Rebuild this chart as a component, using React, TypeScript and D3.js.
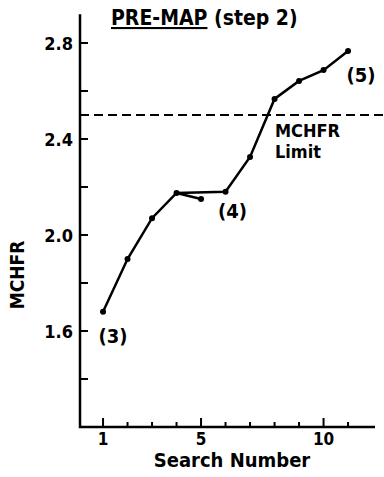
import React, { useRef, useEffect } from "react";
import * as d3 from "d3";

// main search path (search number -> MCHFR)
const searchNums = [1, 2, 3, 4, 6, 7, 8, 9, 10, 11];
const mchfrVals = [1.68, 1.9, 2.07, 2.175, 2.18, 2.325, 2.567, 2.642, 2.687, 2.767];
// rejected step branching off search 4
const branchNums = [4, 5];
const branchVals = [2.175, 2.15];

const yTicks = [1.4, 1.6, 1.8, 2.0, 2.2, 2.4, 2.6, 2.8];
const yLabels = [1.6, 2.0, 2.4, 2.8];
const xTicks = [1, 2, 3, 4, 5, 6, 7, 8, 9, 10, 11];
const xLabels = [1, 5, 10];
const limit = 2.5;

const notes = [
  { text: "(3)", x: 1.41, y: 1.55 },
  { text: "(4)", x: 6.28, y: 2.071 },
  { text: "(5)", x: 11.53, y: 2.638 },
];

const FONT = "'DejaVu Sans Condensed', 'DejaVu Sans', sans-serif";

const App = () => {
  const svgRef = useRef<SVGSVGElement>(null);

  useEffect(() => {
    const width = 384, height = 477;
    const svg = d3.select(svgRef.current)
      .attr("width", width)
      .attr("height", height)
      .style("background", "#fff");
    svg.selectAll("*").remove();

    const x = d3.scaleLinear().domain([0.06, 12.1]).range([80, 375]);
    const y = d3.scaleLinear().domain([1.2, 2.8]).range([427, 43]);

    const label = (sel, size) => sel
      .style("font-family", FONT)
      .style("font-weight", "bold")
      .style("font-size", size + "px");

    // axes
    svg.append("path")
      .attr("d", `M${x(0.06)},${y(2.92)}V${y(1.2)}H${x(12.1)}`)
      .attr("fill", "none")
      .attr("stroke", "#000")
      .attr("stroke-width", 2.5);

    svg.selectAll(".ytick")
      .data(yTicks)
      .enter()
      .append("line")
      .attr("x1", x(0.06))
      .attr("x2", x(0.06) + 8)
      .attr("y1", d => y(d))
      .attr("y2", d => y(d))
      .attr("stroke", "#000")
      .attr("stroke-width", 2);

    svg.selectAll(".ylab")
      .data(yLabels)
      .enter()
      .append("text")
      .attr("x", 73)
      .attr("y", d => y(d) + 6.5)
      .attr("text-anchor", "end")
      .call(label, 18)
      .text(d => d.toFixed(1));

    svg.selectAll(".xtick")
      .data(xTicks)
      .enter()
      .append("line")
      .attr("x1", d => x(d))
      .attr("x2", d => x(d))
      .attr("y1", y(1.2))
      .attr("y2", d => y(1.2) - (xLabels.includes(d) ? 9 : 5))
      .attr("stroke", "#000")
      .attr("stroke-width", 2);

    svg.selectAll(".xlab")
      .data(xLabels)
      .enter()
      .append("text")
      .attr("x", d => x(d))
      .attr("y", 445)
      .attr("text-anchor", "middle")
      .call(label, 17)
      .text(d => d);

    svg.append("text")
      .attr("x", 232)
      .attr("y", 467)
      .attr("text-anchor", "middle")
      .call(label, 20)
      .text("Search Number");

    svg.append("text")
      .attr("transform", "translate(24,275) rotate(-90)")
      .attr("text-anchor", "middle")
      .call(label, 19)
      .text("MCHFR");

    // title
    const title = svg.append("text")
      .attr("x", 111)
      .attr("y", 25)
      .call(label, 21);
    title.append("tspan").style("text-decoration", "underline").text("PRE-MAP");
    title.append("tspan").text(" (step 2)");

    // MCHFR limit
    svg.append("line")
      .attr("x1", x(0.06))
      .attr("x2", width)
      .attr("y1", y(limit))
      .attr("y2", y(limit))
      .attr("stroke", "#000")
      .attr("stroke-width", 2)
      .attr("stroke-dasharray", "9,5");

    svg.append("text")
      .attr("x", 275)
      .attr("y", 137)
      .call(label, 18)
      .text("MCHFR");
    svg.append("text")
      .attr("x", 275)
      .attr("y", 158)
      .call(label, 18)
      .text("Limit");

    const line = d3.line<number>()
      .x((d, i) => x(searchNums[i]))
      .y(d => y(d));
    svg.append("path")
      .datum(mchfrVals)
      .attr("d", line)
      .attr("fill", "none")
      .attr("stroke", "#000")
      .attr("stroke-width", 2.5);

    const branch = d3.line<number>()
      .x((d, i) => x(branchNums[i]))
      .y(d => y(d));
    svg.append("path")
      .datum(branchVals)
      .attr("d", branch)
      .attr("fill", "none")
      .attr("stroke", "#000")
      .attr("stroke-width", 2.5);

    const pts = searchNums.map((n, i) => [n, mchfrVals[i]])
      .concat([[branchNums[1], branchVals[1]]]);
    svg.selectAll(".pt")
      .data(pts)
      .enter()
      .append("circle")
      .attr("cx", d => x(d[0]))
      .attr("cy", d => y(d[1]))
      .attr("r", 3)
      .attr("fill", "#000");

    svg.selectAll(".note")
      .data(notes)
      .enter()
      .append("text")
      .attr("x", d => x(d.x))
      .attr("y", d => y(d.y))
      .attr("text-anchor", "middle")
      .call(label, 20)
      .text(d => d.text);
  }, []);

  return (
    <div style={{ position: "absolute", left: 0, top: 0 }}>
      <svg ref={svgRef}></svg>
    </div>
  );
};

export default App;
